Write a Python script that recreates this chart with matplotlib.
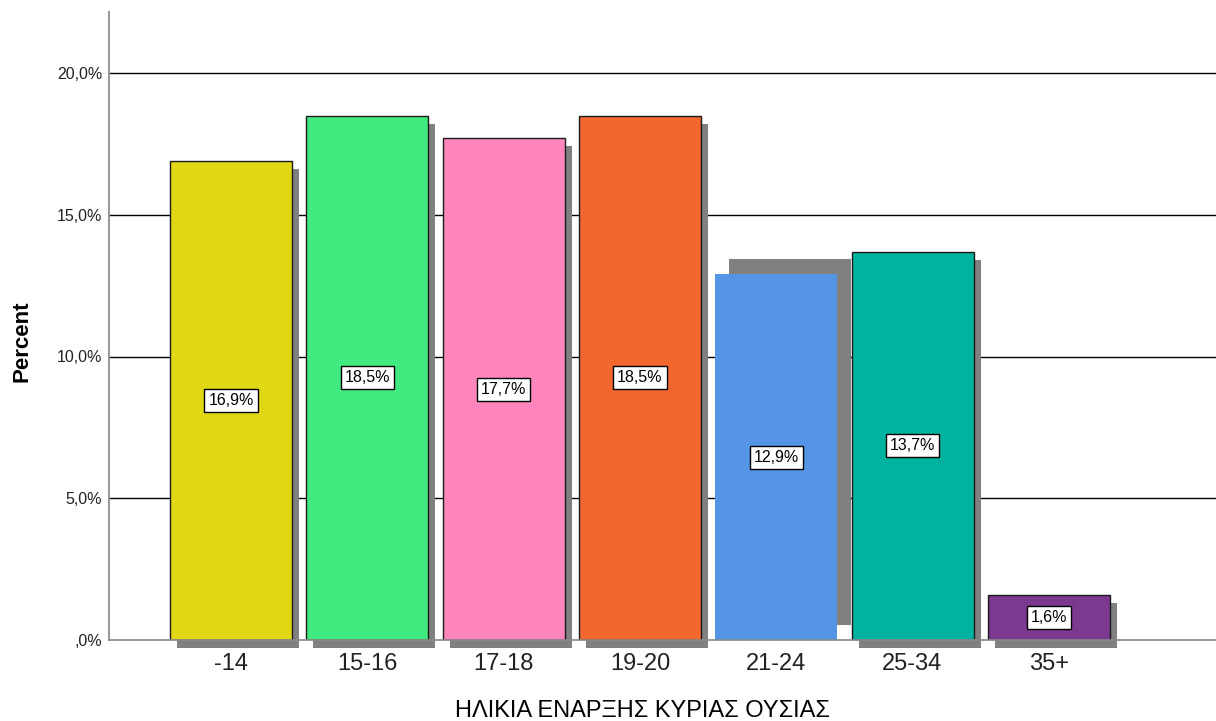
import matplotlib
matplotlib.use("Agg")
import matplotlib.pyplot as plt
import matplotlib.transforms as mtransforms

categories = ["-14", "15-16", "17-18", "19-20", "21-24", "25-34", "35+"]
percent = [16.9, 18.5, 17.7, 18.5, 12.9, 13.7, 1.6]
labels = ["16,9%", "18,5%", "17,7%", "18,5%", "12,9%", "13,7%", "1,6%"]
colors = ["#E1D714", "#41EA7E", "#FF86BC", "#F2672D", "#5595E5", "#00B3A1", "#7C398F"]
yticks = [0, 5, 10, 15, 20]
yticklabels = [",0%", "5,0%", "10,0%", "15,0%", "20,0%"]

plt.rcParams['font.family'] = ['Liberation Sans', 'DejaVu Sans']

W, H = 1216, 721
fig = plt.figure(figsize=(W / 100, H / 100), dpi=100)
ax = fig.add_axes([109 / W, 81 / H, 1 - 109 / W, (640 - 12) / H])

step = 136.3
xl = (109 - 231) / step
xr = (1216 - 231) / step
ax.set_xlim(xl, xr)
ax.set_ylim(0, (640 - 12) / 28.35)

width = 122 / step
xs = list(range(len(categories)))

for y in yticks[1:]:
    ax.axhline(y, color="black", lw=1.0, zorder=0.5)

for i, (x, v, c) in enumerate(zip(xs, percent, colors)):
    if categories[i] == "21-24":
        dx, dy = 14, 15
    else:
        dx, dy = 7, -8
    tr = mtransforms.offset_copy(ax.transData, fig=fig, x=dx, y=dy, units='dots')
    sh = plt.Rectangle((x - width / 2, 0), width, v, facecolor="#808080",
                       edgecolor="none", transform=tr, zorder=1, clip_on=False)
    ax.add_patch(sh)

for i, (x, v, c) in enumerate(zip(xs, percent, colors)):
    ec = "none" if categories[i] == "21-24" else "#1a1a1a"
    ax.bar(x, v, width=width, color=c, edgecolor=ec, linewidth=1.0, zorder=2)
    ax.text(x, v / 2, labels[i], ha="center", va="center", fontsize=11.5,
            color="black", zorder=3,
            bbox=dict(boxstyle="square,pad=0.25", facecolor="white",
                      edgecolor="black", linewidth=1.0))

ax.set_xticks(xs)
ax.set_xticklabels(categories, fontsize=17, color="#222222")
ax.set_yticks(yticks)
ax.set_yticklabels(yticklabels, fontsize=11.5, color="#222222")
ax.tick_params(axis="both", length=0)
ax.tick_params(axis="x", pad=9)
ax.tick_params(axis="y", pad=5)

for s in ["top", "right"]:
    ax.spines[s].set_visible(False)
ax.spines["left"].set_color("#999999")
ax.spines["bottom"].set_color("#888888")
ax.spines["left"].set_linewidth(1.5)
ax.spines["bottom"].set_linewidth(1.2)
ax.spines["left"].set_zorder(0.6)

fig.text(22 / W, 1 - 341 / H, "Percent", rotation=90, ha="center", va="center",
         fontsize=16, fontweight="bold", color="black")
fig.text(642 / W, 1 - 711 / H, "ΗΛΙΚΙΑ ΕΝΑΡΞΗΣ ΚΥΡΙΑΣ ΟΥΣΙΑΣ", ha="center",
         va="center", fontsize=17, color="black")

fig.savefig("out.png", dpi=100)
